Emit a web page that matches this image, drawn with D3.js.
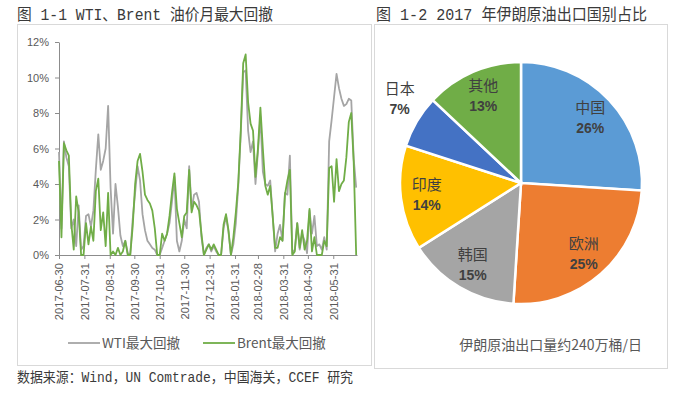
<!DOCTYPE html>
<html>
<head>
<meta charset="utf-8">
<script src="https://cdn.jsdelivr.net/npm/d3@7"></script>
<style>
  body { margin: 0; background: #fff; }
  svg { display: block; }
</style>
</head>
<body>
<svg id="chart" width="675" height="395"></svg>
<script>
// Fig 1-1: WTI / Brent monthly max drawdown, in %, one reading every 3 days from 2017-06-30
const startDate = new Date(2017, 5, 30);
const endDate = new Date(2018, 5, 29);
const tickLabels = ["2017-06-30", "2017-07-31", "2017-08-31", "2017-09-30", "2017-10-31", "2017-11-30",
  "2017-12-31", "2018-01-31", "2018-02-28", "2018-03-31", "2018-04-30", "2018-05-31"];
const yTicks = [0, 2, 4, 6, 8, 10, 12];

const wtiDrawdown = [
  5.8, 1.5, 6.4, 5.5, 5.0, 1.5, 2.0, 0.5, 2.8, 0.3,
  0.5, 2.2, 2.3, 1.6, 2.5, 4.8, 6.8, 4.8, 5.3, 6.0,
  8.4, 3.8, 1.2, 4.0, 2.7, 1.1, 0.5, 0.8, 0.1, 0,
  2.0, 3.5, 5.0, 4.2, 2.3, 1.4, 0.8, 0.6, 0.4, 0.3,
  0, 0, 0.4, 0.8, 1.2, 1.8, 3.0, 4.4, 0.8, 0.2,
  0.8, 2.0, 1.5, 5.0, 2.6, 3.4, 3.5, 3.0, 1.0, 0,
  0.4, 0.6, 0.2, 0.5, 0.2, 0, 0, 1.5, 2.2, 1.3,
  0, 0.6, 1.8, 3.9, 6.8, 10.3, 10.4, 7.0, 5.8, 6.4,
  4.0, 5.8, 7.8, 4.7, 4.0, 3.9, 4.2, 2.2, 0.2, 1.2,
  1.7, 0.8, 3.5, 3.4, 5.6, 0.1, 0.3, 1.8, 0.3, 1.2,
  0.8, 0.1, 2.5, 1.2, 2.2, 0.5, 0.6, 0.3, 1.0, 0.3,
  6.4, 7.6, 8.9, 10.2, 9.4, 8.8, 8.4, 8.5, 8.8, 8.7,
  5.4, 3.8
];
const brentDrawdown = [
  5.3, 1.0, 6.3, 5.9, 5.6, 1.8, 0.3, 3.3, 2.4, 0,
  0, 1.8, 0.6, 1.6, 0.8, 3.6, 4.3, 1.4, 2.4, 0.5,
  3.5, 0, 0.2, 0, 0.4, 0, 0.2, 0.8, 0, 0,
  1.6, 4.0, 5.3, 5.7, 4.7, 3.4, 3.1, 2.9, 2.5, 1.5,
  0, 0, 1.2, 0.8, 1.2, 2.2, 3.5, 4.6, 2.6, 1.8,
  1.0, 2.2, 2.4, 4.8, 2.4, 3.0, 2.8, 2.5, 1.2, 0,
  0.3, 0.6, 0.3, 0.6, 0.3, 0, 0, 1.7, 2.3, 1.4,
  0, 1.0, 2.4, 4.1, 7.0, 10.8, 11.3, 8.6, 7.4, 7.0,
  4.4, 6.0, 8.3, 6.0, 3.9, 3.4, 3.9, 2.2, 0.4, 0.4,
  1.0, 0.8, 3.4, 4.2, 4.8, 0, 0.2, 1.8, 0.4, 1.4,
  0.3, 0.8, 2.6, 0.2, 1.0, 0, 0, 0, 0.8, 0.5,
  4.9, 5.0, 3.0, 5.4, 3.6, 4.0, 4.2, 5.5, 7.5, 8.0,
  5.2, 0
];
const seriesNames = ["WTI最大回撤", "Brent最大回撤"];
const seriesColors = ["#A5A5A5", "#70AD47"];

// Fig 1-2: Iran crude exports by destination, 2017
const countries = ["中国", "欧洲", "韩国", "印度", "日本", "其他"];
const shares = [26, 25, 15, 14, 7, 13];
const pieColors = ["#5B9BD5", "#ED7D31", "#A5A5A5", "#FFC000", "#4472C4", "#70AD47"];

const svg = d3.select("#chart");
const cjk = "'Noto Sans CJK SC', sans-serif";
const titleFont = "'Liberation Mono', 'Noto Sans CJK SC', monospace";

// frames
svg.append("rect").attr("x", 17.5).attr("y", 24.5).attr("width", 354).attr("height", 341)
  .attr("fill", "none").attr("stroke", "#d9d9d9");
svg.append("rect").attr("x", 374.5).attr("y", 24.5).attr("width", 293).attr("height", 344)
  .attr("fill", "none").attr("stroke", "#d9d9d9");

// titles
svg.append("text").attr("x", 17).attr("y", 20)
  .attr("textLength", 256).attr("lengthAdjust", "spacingAndGlyphs")
  .style("font", "16px " + titleFont).attr("fill", "#3a3a3a")
  .text("图 1-1 WTI、Brent 油价月最大回撤");
svg.append("text").attr("x", 376).attr("y", 20)
  .attr("textLength", 271).attr("lengthAdjust", "spacingAndGlyphs")
  .style("font", "16px " + titleFont).attr("fill", "#3a3a3a")
  .text("图 1-2 2017 年伊朗原油出口国别占比");
svg.append("text").attr("x", 17).attr("y", 382)
  .attr("textLength", 336).attr("lengthAdjust", "spacingAndGlyphs")
  .style("font", "14px " + titleFont).attr("fill", "#3a3a3a")
  .text("数据来源：Wind，UN Comtrade，中国海关，CCEF 研究");

// ---- line chart ----
const parseDate = d3.timeParse("%Y-%m-%d");
const dates = d3.timeDay.range(startDate, d3.timeDay.offset(endDate, 1), 3);
const x = d3.scaleTime().domain([startDate, endDate]).range([59, 357]);
const y = d3.scaleLinear().domain([0, 12]).range([255, 42]);

const axisColor = "#8c8c8c";
const gy = svg.append("g").attr("transform", "translate(59,0)")
  .call(d3.axisLeft(y).tickValues(yTicks).tickSize(4).tickSizeOuter(0).tickPadding(6)
    .tickFormat(d => d + "%"));
const gx = svg.append("g").attr("transform", "translate(0,255)")
  .call(d3.axisBottom(x).tickValues(tickLabels.map(parseDate)).tickSize(4).tickSizeOuter(0)
    .tickFormat(d3.timeFormat("%Y-%m-%d")));
[gx, gy].forEach(g => {
  g.select(".domain").attr("stroke", axisColor);
  g.selectAll(".tick line").attr("stroke", axisColor);
  g.selectAll("text").attr("fill", "#595959")
    .style("font", "11px 'Liberation Sans', sans-serif");
});
gx.selectAll("text")
  .attr("transform", "rotate(-90)")
  .attr("x", -8).attr("y", 0).attr("dy", "0.35em")
  .style("text-anchor", "end")
  .style("font-size", "11.2px");

const line = d3.line()
  .x((d, i) => x(dates[i]))
  .y(d => y(d));

svg.append("g").selectAll("path")
  .data([wtiDrawdown, brentDrawdown])
  .join("path")
  .attr("d", line)
  .attr("fill", "none")
  .attr("stroke", (d, i) => seriesColors[i])
  .attr("stroke-width", 1.8)
  .attr("stroke-linejoin", "round");

// legend
const legend = svg.append("g").selectAll("g")
  .data(seriesNames)
  .join("g")
  .attr("transform", (d, i) => `translate(${68 + i * 135},343)`);
legend.append("line").attr("x1", 0).attr("x2", 32)
  .attr("stroke", (d, i) => seriesColors[i]).attr("stroke-width", 1.8);
legend.append("text").attr("x", 34).attr("dy", "0.35em")
  .style("font", "13.5px " + cjk).attr("fill", "#595959")
  .text(d => d);

// ---- pie chart ----
const cx = 521, cy = 183, r = 121;
const pie = d3.pie().sort(null).value(d => d);
const arcs = pie(shares);
const arc = d3.arc().innerRadius(0).outerRadius(r);
const labelArc = d3.arc().innerRadius(r * 0.785).outerRadius(r * 0.785);
const outerArc = d3.arc().innerRadius(r + 20).outerRadius(r + 20);

const gp = svg.append("g").attr("transform", `translate(${cx},${cy})`);
gp.selectAll("path")
  .data(arcs)
  .join("path")
  .attr("d", arc)
  .attr("fill", (d, i) => pieColors[i])
  .attr("stroke", "#fff")
  .attr("stroke-width", 2.5);

const labels = gp.selectAll("g.lbl")
  .data(arcs)
  .join("g")
  .attr("class", "lbl")
  .attr("transform", d => {
    if (d.data < 10) {
      const [px, py] = outerArc.centroid(d);
      return `translate(${px},${py - 12})`;
    }
    const [px, py] = labelArc.centroid(d);
    return `translate(${px},${py})`;
  });
labels.append("text")
  .attr("y", -10).attr("dy", "0.35em")
  .attr("text-anchor", "middle")
  .style("font", "15px " + cjk).attr("fill", "#404040")
  .text((d, i) => countries[i]);
labels.append("text")
  .attr("y", 10).attr("dy", "0.35em")
  .attr("text-anchor", "middle")
  .style("font", "bold 14px 'Liberation Sans', sans-serif").attr("fill", "#404040")
  .text(d => d.data + "%");

svg.append("text").attr("x", 642).attr("y", 350)
  .attr("text-anchor", "end")
  .style("font", "14px " + cjk).attr("fill", "#595959")
  .text("伊朗原油出口量约240万桶/日");
</script>
</body>
</html>
